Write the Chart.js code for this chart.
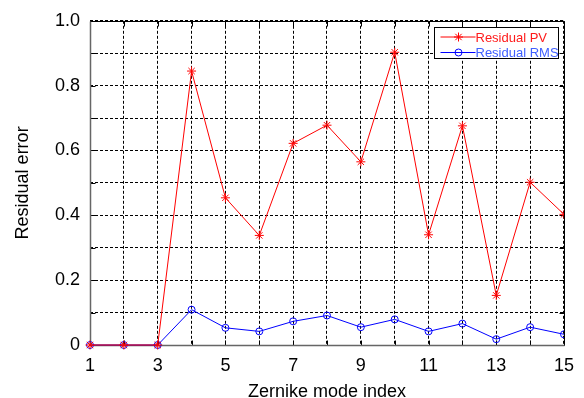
<!DOCTYPE html>
<html>
<head>
<meta charset="utf-8">
<script src="https://cdn.jsdelivr.net/npm/chart.js@4/dist/chart.umd.min.js"></script>
<style>
html, body { margin: 0; padding: 0; background: #fff; }
#wrap { width: 584px; height: 398px; }
</style>
</head>
<body>
<div id="wrap"><canvas id="grafico" width="584" height="398"></canvas></div>
<script>
// datos
const modos = [1, 2, 3, 4, 5, 6, 7, 8, 9, 10, 11, 12, 13, 14, 15];
const residualPV = [0, 0, 0, 0.845, 0.454, 0.338, 0.622, 0.678, 0.565, 0.903, 0.340, 0.676, 0.153, 0.502, 0.403];
const residualRMS = [0, 0, 0, 0.109, 0.053, 0.042, 0.073, 0.091, 0.055, 0.079, 0.042, 0.066, 0.018, 0.055, 0.033];
const valoresY = [0, 0.2, 0.4, 0.6, 0.8, 1.0];
const etiquetasY = ['0', '0.2', '0.4', '0.6', '0.8', '1.0'];
const valoresX = [1, 3, 5, 7, 9, 11, 13, 15];
const etiquetasX = ['1', '3', '5', '7', '9', '11', '13', '15'];
const nombres = ['Residual PV', 'Residual RMS'];

const fuente = 'Liberation Sans, Arial, Helvetica, sans-serif';

// caja de ejes estilo MATLAB con marcas hacia dentro
const cajaEjes = {
    id: 'cajaEjes',
    beforeDatasetsDraw(chart) {
        const { ctx, chartArea: a, scales } = chart;
        const L = Math.round(a.left) + 0.5, R = Math.round(a.right) + 0.5;
        const T = Math.round(a.top) + 0.5, B = Math.round(a.bottom) + 0.5;
        ctx.save();
        ctx.lineWidth = 1;
        ctx.strokeStyle = '#000';
        ctx.setLineDash([]);
        ctx.beginPath();
        scales.x.ticks.forEach(t => {
            const px = Math.round(scales.x.getPixelForValue(t.value)) + 0.5;
            ctx.moveTo(px, B); ctx.lineTo(px, B - 5);
            ctx.moveTo(px, T); ctx.lineTo(px, T + 5);
        });
        scales.y.ticks.forEach(t => {
            const py = Math.round(scales.y.getPixelForValue(t.value)) + 0.5;
            ctx.moveTo(L, py); ctx.lineTo(L + 5, py);
            ctx.moveTo(R, py); ctx.lineTo(R - 5, py);
        });
        ctx.stroke();
        ctx.beginPath();
        ctx.moveTo(L, T); ctx.lineTo(R, T); ctx.lineTo(R, B);
        ctx.stroke();
        ctx.strokeStyle = '#666';
        ctx.lineWidth = 1.5;
        ctx.beginPath();
        ctx.moveTo(L, T); ctx.lineTo(L, B); ctx.lineTo(R, B);
        ctx.stroke();
        ctx.restore();
    },
    afterDraw(chart) {
        // leyenda
        const { ctx, chartArea: a } = chart;
        const w = 124, h = 31;
        const x0 = Math.round(a.right) - 6 - w + 0.5, y0 = Math.round(a.top) + 6 + 0.5;
        ctx.save();
        ctx.fillStyle = '#fff';
        ctx.fillRect(x0, y0, w, h);
        ctx.strokeStyle = '#000';
        ctx.lineWidth = 1;
        ctx.strokeRect(x0, y0, w, h);
        ctx.font = '13px ' + fuente;
        ctx.textBaseline = 'middle';
        chart.data.datasets.forEach((ds, i) => {
            const yy = y0 + 9.5 + i * 15.5;
            ctx.strokeStyle = ds.borderColor;
            ctx.lineWidth = 1;
            ctx.beginPath();
            ctx.moveTo(x0 + 6, yy); ctx.lineTo(x0 + 41, yy);
            ctx.stroke();
            ctx.fillStyle = ds.backgroundColor;
            Chart.helpers.drawPoint(ctx, {
                pointStyle: ds.pointStyle, radius: ds.pointRadius, borderWidth: 1, rotation: 0
            }, x0 + 24, yy);
            ctx.fillStyle = i === 0 ? '#ff1a1a' : '#4060ff';
            ctx.fillText(ds.label, x0 + 41, yy + 1);
        });
        ctx.restore();
    }
};

const ctx = document.getElementById('grafico').getContext('2d');

const datos = {
    datasets: [{
        label: nombres[0],
        data: modos.map((m, i) => ({ x: m, y: residualPV[i] })),
        borderColor: '#ff0000',
        backgroundColor: '#ff0000',
        borderWidth: 1,
        pointStyle: 'star',
        pointRadius: 4.5,
        pointBorderWidth: 1,
        tension: 0,
        clip: { left: 10, top: 10, right: 0, bottom: 10 }
    }, {
        label: nombres[1],
        data: modos.map((m, i) => ({ x: m, y: residualRMS[i] })),
        borderColor: '#0000ff',
        backgroundColor: 'rgba(0,0,0,0)',
        borderWidth: 1,
        pointStyle: 'circle',
        pointRadius: 3.5,
        pointBorderWidth: 1,
        tension: 0,
        clip: { left: 10, top: 10, right: 0, bottom: 10 }
    }]
};

const opciones = {
    responsive: false,
    animation: false,
    devicePixelRatio: 1,
    layout: { padding: { left: 0, top: 14, right: 18, bottom: 0 } },
    plugins: { legend: { display: false }, tooltip: { enabled: false } },
    scales: {
        x: {
            type: 'linear',
            min: 1,
            max: 15,
            afterFit(s) { s.height = 53; },
            ticks: {
                stepSize: 1,
                autoSkip: false,
                maxRotation: 0,
                padding: 10,
                color: '#000',
                font: { family: fuente, size: 18 },
                callback: v => {
                    const k = valoresX.indexOf(v);
                    return k >= 0 ? etiquetasX[k] : '';
                }
            },
            grid: { color: '#000', lineWidth: 1, drawTicks: false },
            border: { display: false, dash: [3, 2] },
            title: {
                display: true,
                text: 'Zernike mode index',
                color: '#000',
                font: { family: fuente, size: 18, lineHeight: 0.7 },
                padding: { top: 0, bottom: 0 }
            }
        },
        y: {
            min: 0,
            max: 1,
            afterFit(s) { s.width = 90; },
            ticks: {
                stepSize: 0.1,
                autoSkip: false,
                padding: 10,
                color: '#000',
                font: { family: fuente, size: 18 },
                callback: v => {
                    const k = valoresY.findIndex(y => Math.abs(y - v) < 1e-6);
                    return k >= 0 ? etiquetasY[k] : '';
                }
            },
            grid: { color: '#000', lineWidth: 1, drawTicks: false },
            border: { display: false, dash: [3, 2] },
            title: {
                display: true,
                text: 'Residual error',
                color: '#000',
                font: { family: fuente, size: 18, lineHeight: 1 },
                padding: { top: 14, bottom: 0 }
            }
        }
    }
};

const grafico = new Chart(ctx, {
    type: 'line',
    data: datos,
    options: opciones,
    plugins: [cajaEjes]
});
</script>
</body>
</html>
